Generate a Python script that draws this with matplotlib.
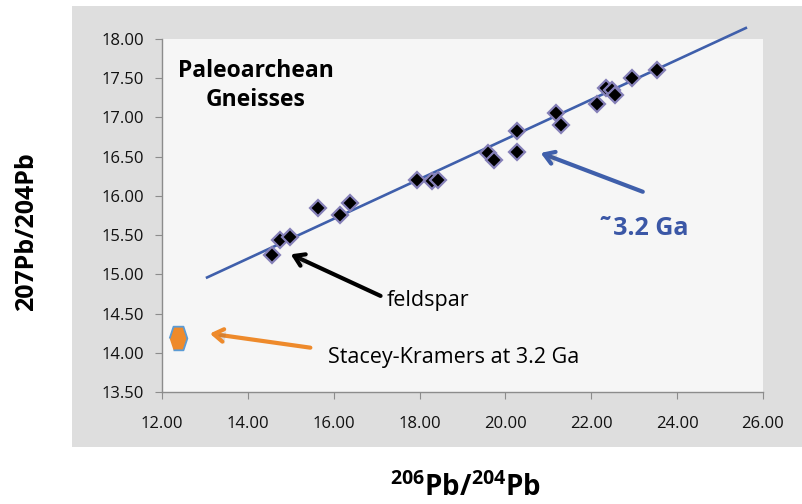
import matplotlib as mpl
import matplotlib.pyplot as plt
import matplotlib.patheffects as pe
from matplotlib.patches import Rectangle

# measured lead isotope ratios
pb206_204 = [14.56, 14.75, 14.98, 15.64, 16.15, 16.38, 17.94, 18.29, 18.43,
             19.60, 19.74, 20.28, 20.28, 21.18, 21.30, 22.14, 22.35, 22.49,
             22.56, 22.96, 23.54]
pb207_204 = [15.25, 15.44, 15.47, 15.84, 15.76, 15.91, 16.20, 16.19, 16.20,
             16.55, 16.46, 16.83, 16.56, 17.06, 16.90, 17.17, 17.37, 17.35,
             17.29, 17.50, 17.60]

# isochron end points
isochron_x = [13.05, 25.60]
isochron_y = [14.96, 18.14]

# Stacey-Kramers model lead at 3.2 Ga
sk_x = [12.37]
sk_y = [14.19]

xticks = [12, 14, 16, 18, 20, 22, 24, 26]
yticks = [13.5, 14.0, 14.5, 15.0, 15.5, 16.0, 16.5, 17.0, 17.5, 18.0]

mpl.rcParams['font.family'] = ['Open Sans', 'DejaVu Sans']
mpl.rcParams['mathtext.fontset'] = 'custom'
mpl.rcParams['mathtext.bf'] = 'Open Sans:bold'

fig = plt.figure(figsize=(8.03, 5.04), dpi=100)
fig.patch.set_facecolor('white')
# grey chart area behind the plot
fig.patches.append(Rectangle((72 / 803, 1 - 447 / 504), 1 - 72 / 803, 441 / 504,
                             transform=fig.transFigure, facecolor='#dedede',
                             edgecolor='none', zorder=-5))

ax = fig.add_axes([162 / 803, 1 - 392 / 504, 601 / 803, 353 / 504])
ax.set_facecolor('#f6f6f6')
ax.set_xlim(12, 26)
ax.set_ylim(13.5, 18.0)
ax.set_xticks(xticks)
ax.set_yticks(yticks)
ax.set_xticklabels(['%.2f' % v for v in xticks])
ax.set_yticklabels(['%.2f' % v for v in yticks])
for side in ['top', 'right']:
    ax.spines[side].set_visible(False)
for side in ['left', 'bottom']:
    ax.spines[side].set_color('#8c8c8c')
    ax.spines[side].set_linewidth(1.0)
ax.tick_params(axis='both', direction='out', length=5, color='#8c8c8c',
               labelsize=12, labelcolor='#111111')
ax.tick_params(axis='x', pad=12)
ax.tick_params(axis='y', pad=8)

shadow = [pe.SimplePatchShadow(offset=(1.5, -1.5), alpha=0.15), pe.Normal()]

# isochron
ax.plot(isochron_x, isochron_y, color='#3f5fab', lw=1.9, clip_on=False, zorder=2)

# data
ax.plot(pb206_204, pb207_204, ls='none', marker='D', ms=8, mfc='black',
        mec='#8580b8', mew=1.6, zorder=3)

# model lead
hexagon = [(-0.75, 0), (-0.42, 1), (0.42, 1), (0.75, 0), (0.42, -1), (-0.42, -1)]
ax.plot(sk_x, sk_y, ls='none', marker=hexagon, ms=17, mfc='#ee8a2b',
        mec='#5b9bd5', mew=1.3, zorder=3, clip_on=False)

# annotations
ax.text(14.19, 17.41, 'Paleoarchean\nGneisses', ha='center', va='center',
        fontsize=16.5, fontweight='bold', linespacing=1.25)

arrow_style = '->, head_length=0.7, head_width=0.45'
a = ax.annotate('', xy=(20.76, 16.56), xytext=(23.26, 16.04),
                arrowprops=dict(arrowstyle=arrow_style, color='#3f5fab', lw=3))
a.arrow_patch.set_path_effects(shadow)
ax.text(22.16, 15.59, '˜3.2 Ga', color='#3b57a6', fontsize=18,
        fontweight='bold', va='center')

a = ax.annotate('', xy=(14.94, 15.27), xytext=(17.15, 14.71),
                arrowprops=dict(arrowstyle=arrow_style, color='black', lw=3))
a.arrow_patch.set_path_effects(shadow)
ax.text(17.24, 14.67, 'feldspar', fontsize=15.5, va='center')

a = ax.annotate('', xy=(13.05, 14.25), xytext=(15.52, 14.06),
                arrowprops=dict(arrowstyle=arrow_style, color='#ee8a2b', lw=3))
a.arrow_patch.set_path_effects(shadow)
ax.text(15.87, 13.94, 'Stacey-Kramers at 3.2 Ga', fontsize=15.5, va='center')

# axis titles
fig.text(27 / 803, 1 - 232 / 504, '207Pb/204Pb', rotation=90, ha='center',
         va='center', fontsize=18, fontweight='bold')
fig.text(465 / 803, 1 - 488 / 504, r'$^{\mathbf{206}}$Pb/$^{\mathbf{204}}$Pb',
         ha='center', va='center', fontsize=20, fontweight='bold')

fig.savefig('out.png', dpi=100)
